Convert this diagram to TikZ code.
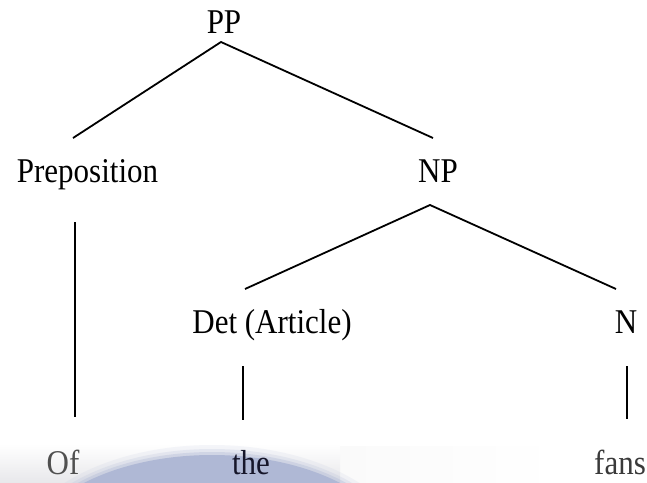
\documentclass[tikz,border=0pt]{standalone}
\usepackage{fontspec}
\setmainfont{Liberation Serif}
\definecolor{domeblue}{RGB}{175,184,213}
\definecolor{bandgrey}{RGB}{232,232,235}
\definecolor{ofgrey}{RGB}{80,80,80}
\definecolor{thenavy}{RGB}{22,22,42}
\definecolor{fansgrey}{RGB}{58,58,58}
\newcommand{\tallword}[1]{\scalebox{1}[1.12]{#1}}
\begin{document}
\begin{tikzpicture}[x=1pt,y=-1pt,
  cat/.style={anchor=base,inner sep=0pt,font=\fontsize{31}{36}\selectfont},
  branch/.style={line width=1.8pt,black}]
\useasboundingbox (0,0) rectangle (647,482);
% soft band and dome behind the words
\begin{scope}
  \clip (0,444) rectangle (647,482);
  \shade[left color=white!98!black,right color=white] (340,446) rectangle (560,482);
  \shade[top color=white,bottom color=bandgrey] (0,444) rectangle (340,482);
  \foreach \g/\o in {10/0.12,6/0.2,3/0.35,0/1}{
    \fill[domeblue,opacity=\o] (212,562) ellipse ({190+\g} and {107+\g});
  }
\end{scope}
% categories
\node[cat] (pp) at (224,33) {\tallword{PP}};
\node[cat] (prep) at (87.5,182) {\tallword{Preposition}};
\node[cat] (np) at (438,182) {\tallword{NP}};
\node[cat] (det) at (272,333) {\tallword{Det (Article)}};
\node[cat] (n) at (626,333) {\tallword{N}};
% words
\node[cat,text=ofgrey] (of) at (63,474) {\tallword{Of}};
\node[cat,text=thenavy] (the) at (251,474) {\tallword{the}};
\node[cat,text=fansgrey] (fans) at (620,474) {\tallword{fans}};
% branch end points
\coordinate (ppa) at (221,42);
\coordinate (prepT) at (73,138);
\coordinate (npT) at (433,138);
\coordinate (npa) at (430,205);
\coordinate (detT) at (245,289);
\coordinate (nT) at (616,289);
\coordinate (prepB) at (75,222);
\coordinate (ofT) at (75,417);
\coordinate (detB) at (243,366);
\coordinate (theT) at (243,420);
\coordinate (nB) at (627,366);
\coordinate (fansT) at (627,419);
% branches
\draw[branch] (prepT) -- (ppa) -- (npT);
\draw[branch] (detT) -- (npa) -- (nT);
\draw[branch] (prepB) -- (ofT);
\draw[branch] (detB) -- (theT);
\draw[branch] (nB) -- (fansT);
\end{tikzpicture}
\end{document}
